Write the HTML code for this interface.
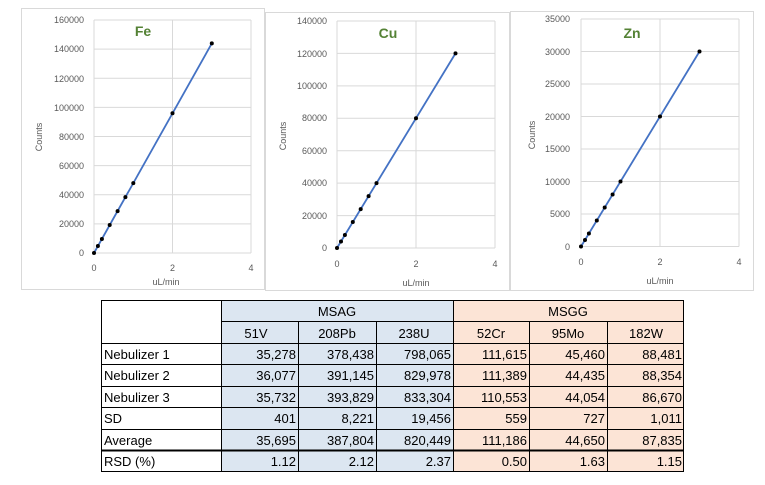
<!DOCTYPE html>
<html><head><meta charset="utf-8"><style>
html,body{margin:0;padding:0;background:#fff;}
svg{display:block;font-family:"Liberation Sans",sans-serif;}
</style></head><body>
<svg width="765" height="485" viewBox="0 0 765 485" xmlns="http://www.w3.org/2000/svg">
<rect width="765" height="485" fill="#fff"/>
<rect x="21.5" y="8.5" width="243" height="281" fill="none" stroke="#d9d9d9"/>
<rect x="265.5" y="12.5" width="244" height="278" fill="none" stroke="#d9d9d9"/>
<rect x="510.5" y="11.5" width="243" height="279" fill="none" stroke="#d9d9d9"/>

<g id="fe" font-size="9" fill="#595959">
<g stroke="#d9d9d9" stroke-width="1">
<line x1="94" y1="253" x2="251" y2="253"/><line x1="94" y1="223.9" x2="251" y2="223.9"/><line x1="94" y1="194.8" x2="251" y2="194.8"/><line x1="94" y1="165.6" x2="251" y2="165.6"/><line x1="94" y1="136.5" x2="251" y2="136.5"/><line x1="94" y1="107.4" x2="251" y2="107.4"/><line x1="94" y1="78.3" x2="251" y2="78.3"/><line x1="94" y1="49.1" x2="251" y2="49.1"/><line x1="94" y1="20" x2="251" y2="20"/>
<line x1="94" y1="20" x2="94" y2="253"/><line x1="172.5" y1="20" x2="172.5" y2="253"/><line x1="251" y1="20" x2="251" y2="253"/>
</g>
<g text-anchor="end"><text x="84" y="256">0</text><text x="84" y="227">20000</text><text x="84" y="198">40000</text><text x="84" y="169">60000</text><text x="84" y="140">80000</text><text x="84" y="111">100000</text><text x="84" y="82">120000</text><text x="84" y="52">140000</text><text x="84" y="23">160000</text></g>
<g text-anchor="middle"><text x="94" y="271">0</text><text x="172.5" y="271">2</text><text x="251" y="271">4</text><text x="166" y="285">uL/min</text></g>
<text transform="translate(42,137) rotate(-90)" text-anchor="middle">Counts</text>
<text x="143" y="36" font-size="14" font-weight="bold" fill="#548235" text-anchor="middle">Fe</text>
<polyline fill="none" stroke="#4472c4" stroke-width="1.8" points="94,253 211.8,43.4"/>
<g fill="#000"><circle cx="94" cy="253" r="2"/><circle cx="97.9" cy="246" r="2"/><circle cx="101.9" cy="239" r="2"/><circle cx="109.7" cy="225" r="2"/><circle cx="117.6" cy="211.1" r="2"/><circle cx="125.4" cy="197.1" r="2"/><circle cx="133.3" cy="183.1" r="2"/><circle cx="172.5" cy="113.3" r="2"/><circle cx="211.8" cy="43.4" r="2"/></g>
</g>

<g id="cu" font-size="9" fill="#595959">
<g stroke="#d9d9d9">
<line x1="337" y1="248" x2="495" y2="248"/><line x1="337" y1="215.6" x2="495" y2="215.6"/><line x1="337" y1="183.1" x2="495" y2="183.1"/><line x1="337" y1="150.7" x2="495" y2="150.7"/><line x1="337" y1="118.3" x2="495" y2="118.3"/><line x1="337" y1="85.9" x2="495" y2="85.9"/><line x1="337" y1="53.4" x2="495" y2="53.4"/><line x1="337" y1="21" x2="495" y2="21"/>
<line x1="337" y1="21" x2="337" y2="248"/><line x1="416" y1="21" x2="416" y2="248"/><line x1="495" y1="21" x2="495" y2="248"/>
</g>
<g text-anchor="end"><text x="327" y="251">0</text><text x="327" y="219">20000</text><text x="327" y="186">40000</text><text x="327" y="154">60000</text><text x="327" y="121">80000</text><text x="327" y="89">100000</text><text x="327" y="57">120000</text><text x="327" y="24">140000</text></g>
<g text-anchor="middle"><text x="337" y="267">0</text><text x="416" y="267">2</text><text x="495" y="267">4</text><text x="416" y="286">uL/min</text></g>
<text transform="translate(286,136) rotate(-90)" text-anchor="middle">Counts</text>
<text x="388" y="38" font-size="14" font-weight="bold" fill="#548235" text-anchor="middle">Cu</text>
<polyline fill="none" stroke="#4472c4" stroke-width="1.8" points="337,248 455.5,53.4"/>
<g fill="#000"><circle cx="337" cy="248" r="2"/><circle cx="341" cy="241.5" r="2"/><circle cx="344.9" cy="235" r="2"/><circle cx="352.8" cy="222" r="2"/><circle cx="360.7" cy="209.1" r="2"/><circle cx="368.6" cy="196.1" r="2"/><circle cx="376.5" cy="183.1" r="2"/><circle cx="416" cy="118.3" r="2"/><circle cx="455.5" cy="53.4" r="2"/></g>
</g>

<g id="zn" font-size="9" fill="#595959">
<g stroke="#d9d9d9">
<line x1="581" y1="246.5" x2="739" y2="246.5"/><line x1="581" y1="214" x2="739" y2="214"/><line x1="581" y1="181.5" x2="739" y2="181.5"/><line x1="581" y1="149" x2="739" y2="149"/><line x1="581" y1="116.5" x2="739" y2="116.5"/><line x1="581" y1="84" x2="739" y2="84"/><line x1="581" y1="51.5" x2="739" y2="51.5"/><line x1="581" y1="19" x2="739" y2="19"/>
<line x1="581" y1="19" x2="581" y2="246.5"/><line x1="660" y1="19" x2="660" y2="246.5"/><line x1="739" y1="19" x2="739" y2="246.5"/>
</g>
<g text-anchor="end"><text x="570" y="250">0</text><text x="570" y="217">5000</text><text x="570" y="185">10000</text><text x="570" y="152">15000</text><text x="570" y="120">20000</text><text x="570" y="87">25000</text><text x="570" y="55">30000</text><text x="570" y="22">35000</text></g>
<g text-anchor="middle"><text x="581" y="265">0</text><text x="660" y="265">2</text><text x="739" y="265">4</text><text x="660" y="284">uL/min</text></g>
<text transform="translate(535,135) rotate(-90)" text-anchor="middle">Counts</text>
<text x="632" y="38" font-size="14" font-weight="bold" fill="#548235" text-anchor="middle">Zn</text>
<polyline fill="none" stroke="#4472c4" stroke-width="1.8" points="581,246.5 699.5,51.5"/>
<g fill="#000"><circle cx="581" cy="246.5" r="2"/><circle cx="585" cy="240" r="2"/><circle cx="588.9" cy="233.5" r="2"/><circle cx="596.8" cy="220.5" r="2"/><circle cx="604.7" cy="207.5" r="2"/><circle cx="612.6" cy="194.5" r="2"/><circle cx="620.5" cy="181.5" r="2"/><circle cx="660" cy="116.5" r="2"/><circle cx="699.5" cy="51.5" r="2"/></g>
</g>

<rect x="221" y="300" width="232" height="172" fill="#dce6f1"/>
<rect x="453" y="300" width="231" height="172" fill="#fce4d6"/>
<g stroke="#000" stroke-width="1" fill="none">
<rect x="101.5" y="300.5" width="582" height="171"/>
<line x1="221.5" y1="300" x2="221.5" y2="472"/>
<line x1="453.5" y1="300" x2="453.5" y2="472"/>
<line x1="298.5" y1="321.5" x2="298.5" y2="472"/>
<line x1="376.5" y1="321.5" x2="376.5" y2="472"/>
<line x1="529.5" y1="321.5" x2="529.5" y2="472"/>
<line x1="607.5" y1="321.5" x2="607.5" y2="472"/>
<line x1="221" y1="321.5" x2="684" y2="321.5"/>
<line x1="101" y1="343.5" x2="684" y2="343.5"/>
<line x1="101" y1="364.5" x2="684" y2="364.5"/>
<line x1="101" y1="386.5" x2="684" y2="386.5"/>
<line x1="101" y1="407.5" x2="684" y2="407.5"/>
<line x1="101" y1="429.5" x2="684" y2="429.5"/>
<line x1="101" y1="450.5" x2="684" y2="450.5" stroke-width="2"/>
</g>
<g font-size="13" fill="#000">
<text x="337" y="316" text-anchor="middle">MSAG</text>
<text x="568" y="316" text-anchor="middle">MSGG</text>
<g text-anchor="middle"><text x="256" y="338">51V</text><text x="337" y="338">208Pb</text><text x="414" y="338">238U</text>
<text x="491" y="338">52Cr</text><text x="568" y="338">95Mo</text><text x="646" y="338">182W</text></g>
<g><text x="104" y="359">Nebulizer 1</text><text x="104" y="380">Nebulizer 2</text><text x="104" y="402">Nebulizer 3</text><text x="104" y="423">SD</text><text x="104" y="445">Average</text><text x="104" y="466">RSD (%)</text></g>
<g text-anchor="end">
<text x="296" y="359">35,278</text><text x="374" y="359">378,438</text><text x="451" y="359">798,065</text><text x="527" y="359">111,615</text><text x="605" y="359">45,460</text><text x="682" y="359">88,481</text>
<text x="296" y="380">36,077</text><text x="374" y="380">391,145</text><text x="451" y="380">829,978</text><text x="527" y="380">111,389</text><text x="605" y="380">44,435</text><text x="682" y="380">88,354</text>
<text x="296" y="402">35,732</text><text x="374" y="402">393,829</text><text x="451" y="402">833,304</text><text x="527" y="402">110,553</text><text x="605" y="402">44,054</text><text x="682" y="402">86,670</text>
<text x="296" y="423">401</text><text x="374" y="423">8,221</text><text x="451" y="423">19,456</text><text x="527" y="423">559</text><text x="605" y="423">727</text><text x="682" y="423">1,011</text>
<text x="296" y="445">35,695</text><text x="374" y="445">387,804</text><text x="451" y="445">820,449</text><text x="527" y="445">111,186</text><text x="605" y="445">44,650</text><text x="682" y="445">87,835</text>
<text x="296" y="466">1.12</text><text x="374" y="466">2.12</text><text x="451" y="466">2.37</text><text x="527" y="466">0.50</text><text x="605" y="466">1.63</text><text x="682" y="466">1.15</text>
</g>
</g>
</svg>
</body></html>
